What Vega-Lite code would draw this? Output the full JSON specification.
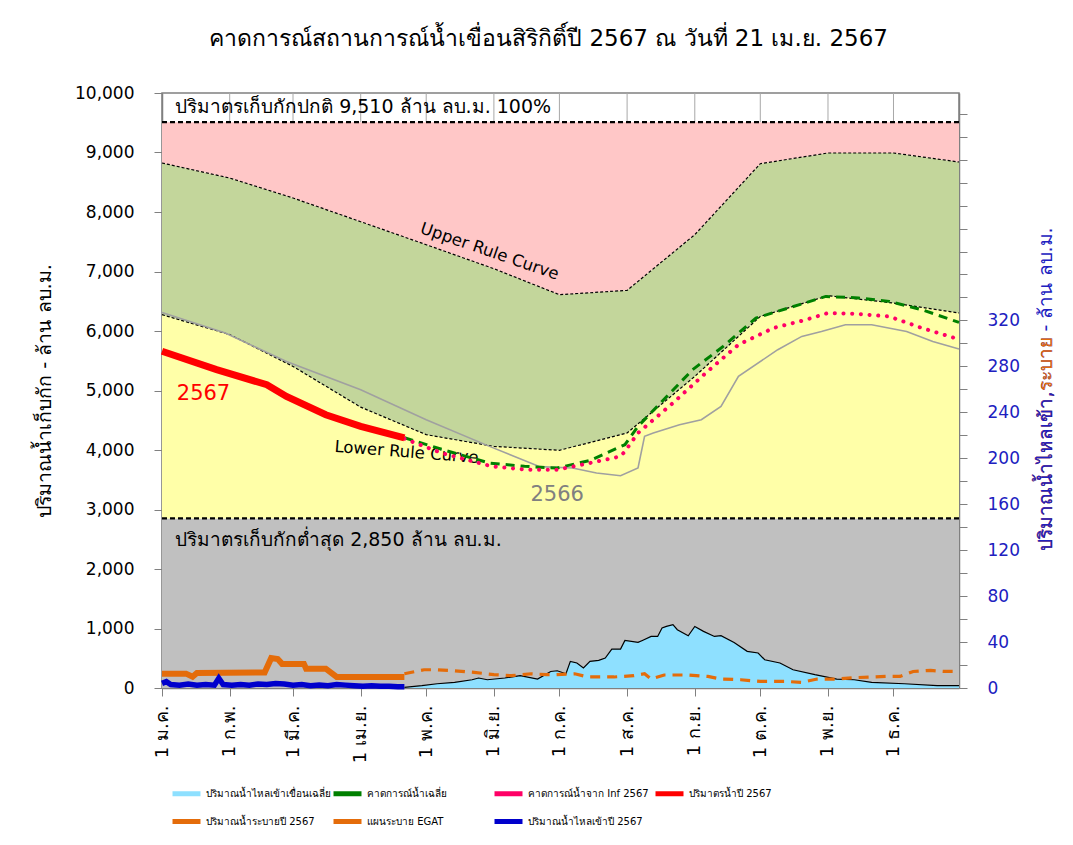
{
 "$schema": "https://vega.github.io/schema/vega-lite/v6.json",
 "autosize": {"type": "none"},
 "width": 797,
 "height": 595,
 "padding": {"left": 162, "top": 93, "right": 114, "bottom": 157},
 "background": "white",
 "title": {"text": "คาดการณ์สถานการณ์น้ำเขื่อนสิริกิติ์ปี 2567 ณ วันที่ 21 เม.ย. 2567", "fontSize": 23, "fontWeight": "normal", "color": "black", "anchor": "middle", "frame": "group", "dx": -12, "offset": 15, "baseline": "alphabetic"},
 "config": {
  "font": "DejaVu Sans",
  "view": {"stroke": "#808080", "strokeWidth": 1.5},
  "axis": {"labelFont": "DejaVu Sans", "titleFont": "DejaVu Sans"},
  "legend": {"labelFont": "DejaVu Sans"},
  "text": {"font": "DejaVu Sans"}
 },
 "datasets": {
  "months": [
   {"date": "2024-02-01", "normal": 9510, "max": 10000}, {"date": "2024-03-01", "normal": 9510, "max": 10000},
   {"date": "2024-04-01", "normal": 9510, "max": 10000}, {"date": "2024-05-01", "normal": 9510, "max": 10000},
   {"date": "2024-06-01", "normal": 9510, "max": 10000}, {"date": "2024-07-01", "normal": 9510, "max": 10000},
   {"date": "2024-08-01", "normal": 9510, "max": 10000}, {"date": "2024-09-01", "normal": 9510, "max": 10000},
   {"date": "2024-10-01", "normal": 9510, "max": 10000}, {"date": "2024-11-01", "normal": 9510, "max": 10000},
   {"date": "2024-12-01", "normal": 9510, "max": 10000}
  ],
  "rule": [
   {"date": "2024-01-01", "upper": 8824, "lower": 6274, "normal": 9510, "min": 2850},
   {"date": "2024-02-01", "upper": 8571, "lower": 5940, "normal": 9510, "min": 2850},
   {"date": "2024-03-01", "upper": 8235, "lower": 5405, "normal": 9510, "min": 2850},
   {"date": "2024-04-01", "upper": 7837, "lower": 4720, "normal": 9510, "min": 2850},
   {"date": "2024-05-01", "upper": 7450, "lower": 4258, "normal": 9510, "min": 2850},
   {"date": "2024-06-01", "upper": 7047, "lower": 4061, "normal": 9510, "min": 2850},
   {"date": "2024-07-01", "upper": 6610, "lower": 3995, "normal": 9510, "min": 2850},
   {"date": "2024-08-01", "upper": 6683, "lower": 4286, "normal": 9510, "min": 2850},
   {"date": "2024-09-01", "upper": 7619, "lower": 5237, "normal": 9510, "min": 2850},
   {"date": "2024-10-01", "upper": 8812, "lower": 6245, "normal": 9510, "min": 2850},
   {"date": "2024-11-01", "upper": 8992, "lower": 6593, "normal": 9510, "min": 2850},
   {"date": "2024-12-01", "upper": 8992, "lower": 6470, "normal": 9510, "min": 2850},
   {"date": "2024-12-31", "upper": 8840, "lower": 6303, "normal": 9510, "min": 2850}
  ],
  "s2566": [
   {"date": "2024-01-01", "v": 6312}, {"date": "2024-01-30", "v": 5966}, {"date": "2024-02-27", "v": 5489},
   {"date": "2024-04-01", "v": 5013}, {"date": "2024-05-01", "v": 4509}, {"date": "2024-05-30", "v": 4061},
   {"date": "2024-06-22", "v": 3720}, {"date": "2024-07-07", "v": 3697}, {"date": "2024-07-18", "v": 3613},
   {"date": "2024-07-29", "v": 3568}, {"date": "2024-08-06", "v": 3697}, {"date": "2024-08-09", "v": 4229},
   {"date": "2024-08-13", "v": 4286}, {"date": "2024-08-25", "v": 4425}, {"date": "2024-09-04", "v": 4509},
   {"date": "2024-09-13", "v": 4733}, {"date": "2024-09-21", "v": 5237}, {"date": "2024-10-09", "v": 5686},
   {"date": "2024-10-20", "v": 5909}, {"date": "2024-10-29", "v": 5993}, {"date": "2024-11-09", "v": 6106},
   {"date": "2024-11-21", "v": 6106}, {"date": "2024-12-07", "v": 5993}, {"date": "2024-12-19", "v": 5825},
   {"date": "2024-12-31", "v": 5697}
  ],
  "s2567": [
   {"date": "2024-01-01", "v": 5660}, {"date": "2024-01-26", "v": 5350}, {"date": "2024-02-18", "v": 5097},
   {"date": "2024-02-27", "v": 4901}, {"date": "2024-03-16", "v": 4593}, {"date": "2024-04-01", "v": 4397},
   {"date": "2024-04-21", "v": 4202}
  ],
  "fcavg": [
   {"date": "2024-04-21", "v": 4206}, {"date": "2024-05-10", "v": 3990}, {"date": "2024-05-30", "v": 3781},
   {"date": "2024-06-15", "v": 3725}, {"date": "2024-06-30", "v": 3697}, {"date": "2024-07-15", "v": 3825},
   {"date": "2024-07-31", "v": 4089}, {"date": "2024-08-06", "v": 4397}, {"date": "2024-08-31", "v": 5350},
   {"date": "2024-09-14", "v": 5741}, {"date": "2024-09-29", "v": 6218}, {"date": "2024-10-14", "v": 6387},
   {"date": "2024-10-31", "v": 6581}, {"date": "2024-11-15", "v": 6555}, {"date": "2024-11-29", "v": 6498},
   {"date": "2024-12-14", "v": 6358}, {"date": "2024-12-31", "v": 6145}
  ],
  "fcinf": [
   {"date": "2024-04-21", "v": 4190}, {"date": "2024-05-08", "v": 3950}, {"date": "2024-05-31", "v": 3725},
   {"date": "2024-06-16", "v": 3669}, {"date": "2024-06-30", "v": 3669}, {"date": "2024-07-15", "v": 3781},
   {"date": "2024-07-29", "v": 3893}, {"date": "2024-07-31", "v": 3977}, {"date": "2024-08-06", "v": 4286},
   {"date": "2024-08-22", "v": 4790}, {"date": "2024-09-06", "v": 5294}, {"date": "2024-09-21", "v": 5770},
   {"date": "2024-10-07", "v": 6050}, {"date": "2024-10-22", "v": 6190}, {"date": "2024-11-01", "v": 6303},
   {"date": "2024-11-13", "v": 6291}, {"date": "2024-11-29", "v": 6245}, {"date": "2024-12-14", "v": 6050},
   {"date": "2024-12-31", "v": 5860}
  ],
  "avginflow": [
   {"date": "2024-04-21", "v": 0.5}, {"date": "2024-04-29", "v": 2}, {"date": "2024-05-06", "v": 3.7},
   {"date": "2024-05-14", "v": 4.9}, {"date": "2024-05-22", "v": 7.2}, {"date": "2024-05-25", "v": 8.7},
   {"date": "2024-05-29", "v": 7.2}, {"date": "2024-06-06", "v": 8.7}, {"date": "2024-06-13", "v": 10.7},
   {"date": "2024-06-21", "v": 7.8}, {"date": "2024-06-27", "v": 14.4}, {"date": "2024-06-30", "v": 15},
   {"date": "2024-07-04", "v": 12.4}, {"date": "2024-07-06", "v": 23.2}, {"date": "2024-07-09", "v": 21.8},
   {"date": "2024-07-12", "v": 17.4}, {"date": "2024-07-15", "v": 23.2}, {"date": "2024-07-19", "v": 24},
   {"date": "2024-07-22", "v": 26.1}, {"date": "2024-07-25", "v": 33.9}, {"date": "2024-07-29", "v": 33.9},
   {"date": "2024-07-31", "v": 41.4}, {"date": "2024-08-06", "v": 39.7}, {"date": "2024-08-08", "v": 41.4},
   {"date": "2024-08-12", "v": 44.9}, {"date": "2024-08-15", "v": 44.9}, {"date": "2024-08-17", "v": 52.2},
   {"date": "2024-08-19", "v": 53.6}, {"date": "2024-08-22", "v": 55.1}, {"date": "2024-08-24", "v": 50.7},
   {"date": "2024-08-29", "v": 45.5}, {"date": "2024-09-01", "v": 53.6}, {"date": "2024-09-05", "v": 49.3},
   {"date": "2024-09-10", "v": 44.9}, {"date": "2024-09-13", "v": 45.5}, {"date": "2024-09-19", "v": 39.7},
   {"date": "2024-09-25", "v": 31.9}, {"date": "2024-09-30", "v": 30.5}, {"date": "2024-10-03", "v": 24.6},
   {"date": "2024-10-10", "v": 21.8}, {"date": "2024-10-16", "v": 15.9}, {"date": "2024-10-26", "v": 11.6},
   {"date": "2024-11-05", "v": 7.8}, {"date": "2024-11-13", "v": 7.2}, {"date": "2024-11-21", "v": 4.9},
   {"date": "2024-12-06", "v": 3.7}, {"date": "2024-12-21", "v": 2}, {"date": "2024-12-31", "v": 2}
  ],
  "release": [
   {"date": "2024-01-01", "v": 12.5}, {"date": "2024-01-12", "v": 12.5}, {"date": "2024-01-15", "v": 9.8},
   {"date": "2024-01-17", "v": 13}, {"date": "2024-02-17", "v": 13.5}, {"date": "2024-02-20", "v": 26},
   {"date": "2024-02-23", "v": 25.2}, {"date": "2024-02-25", "v": 21}, {"date": "2024-03-06", "v": 21},
   {"date": "2024-03-07", "v": 16.8}, {"date": "2024-03-16", "v": 16.8}, {"date": "2024-03-21", "v": 9.6},
   {"date": "2024-04-21", "v": 9.6}
  ],
  "egat": [
   {"date": "2024-04-21", "v": 12.4}, {"date": "2024-04-30", "v": 15.9}, {"date": "2024-05-06", "v": 15.9},
   {"date": "2024-05-14", "v": 15}, {"date": "2024-05-23", "v": 13.6}, {"date": "2024-06-01", "v": 11.6},
   {"date": "2024-06-09", "v": 10.7}, {"date": "2024-06-18", "v": 12.4}, {"date": "2024-06-25", "v": 11.6},
   {"date": "2024-06-29", "v": 11.6}, {"date": "2024-07-08", "v": 12.4}, {"date": "2024-07-14", "v": 9.6},
   {"date": "2024-07-26", "v": 9.6}, {"date": "2024-08-04", "v": 10.7}, {"date": "2024-08-09", "v": 12.4},
   {"date": "2024-08-12", "v": 7.8}, {"date": "2024-08-18", "v": 11.3}, {"date": "2024-08-29", "v": 11.3},
   {"date": "2024-09-07", "v": 10.1}, {"date": "2024-09-13", "v": 7.8}, {"date": "2024-09-22", "v": 7.2},
   {"date": "2024-10-01", "v": 5.7}, {"date": "2024-10-13", "v": 5.7}, {"date": "2024-10-20", "v": 4.9},
   {"date": "2024-10-27", "v": 7.8}, {"date": "2024-11-05", "v": 7.8}, {"date": "2024-11-13", "v": 9},
   {"date": "2024-11-28", "v": 10.1}, {"date": "2024-12-04", "v": 10.1}, {"date": "2024-12-10", "v": 14.4},
   {"date": "2024-12-18", "v": 15.3}, {"date": "2024-12-24", "v": 14.4}, {"date": "2024-12-31", "v": 14.4}
  ],
  "inflow": [
   {"date": "2024-01-01", "v": 4}, {"date": "2024-01-03", "v": 5.5}, {"date": "2024-01-05", "v": 3},
   {"date": "2024-01-09", "v": 2.5}, {"date": "2024-01-13", "v": 3.5}, {"date": "2024-01-17", "v": 2.5},
   {"date": "2024-01-21", "v": 3}, {"date": "2024-01-25", "v": 2.5}, {"date": "2024-01-27", "v": 8.5},
   {"date": "2024-01-29", "v": 3}, {"date": "2024-02-02", "v": 2.5}, {"date": "2024-02-06", "v": 3},
   {"date": "2024-02-10", "v": 2.5}, {"date": "2024-02-14", "v": 3.5}, {"date": "2024-02-18", "v": 3},
   {"date": "2024-02-22", "v": 4}, {"date": "2024-02-26", "v": 3.5}, {"date": "2024-03-01", "v": 2.5},
   {"date": "2024-03-05", "v": 3}, {"date": "2024-03-09", "v": 2}, {"date": "2024-03-13", "v": 2.5},
   {"date": "2024-03-17", "v": 2}, {"date": "2024-03-21", "v": 3}, {"date": "2024-03-25", "v": 2.5},
   {"date": "2024-03-29", "v": 2}, {"date": "2024-04-02", "v": 1.5}, {"date": "2024-04-06", "v": 2},
   {"date": "2024-04-10", "v": 1.5}, {"date": "2024-04-14", "v": 1.5}, {"date": "2024-04-18", "v": 1},
   {"date": "2024-04-21", "v": 1}
  ]
 },
 "data": {"name": "rule"},
 "encoding": {
  "x": {
   "field": "date", "type": "temporal", "title": null,
   "scale": {"type": "utc", "domain": [{"year": 2024, "month": 1, "date": 1, "utc": true}, {"year": 2024, "month": 12, "date": 31, "utc": true}]},
   "axis": {
    "values": [
     {"year": 2024, "month": 1, "date": 1, "utc": true}, {"year": 2024, "month": 2, "date": 1, "utc": true},
     {"year": 2024, "month": 3, "date": 1, "utc": true}, {"year": 2024, "month": 4, "date": 1, "utc": true},
     {"year": 2024, "month": 5, "date": 1, "utc": true}, {"year": 2024, "month": 6, "date": 1, "utc": true},
     {"year": 2024, "month": 7, "date": 1, "utc": true}, {"year": 2024, "month": 8, "date": 1, "utc": true},
     {"year": 2024, "month": 9, "date": 1, "utc": true}, {"year": 2024, "month": 10, "date": 1, "utc": true},
     {"year": 2024, "month": 11, "date": 1, "utc": true}, {"year": 2024, "month": 12, "date": 1, "utc": true}
    ],
    "labelExpr": "'1 ' + ['ม.ค.','ก.พ.','มี.ค.','เม.ย.','พ.ค.','มิ.ย.','ก.ค.','ส.ค.','ก.ย.','ต.ค.','พ.ย.','ธ.ค.'][utcmonth(datum.value)]",
    "labelAngle": -90, "labelFontSize": 18, "labelColor": "black", "labelPadding": 9,
    "labelOverlap": false, "labelFlush": false,
    "tickSize": 8, "tickColor": "#808080", "domainColor": "#808080", "domainWidth": 1.5,
    "grid": false, "title": null
   }
  }
 },
 "resolve": {"scale": {"y": "independent"}},
 "layer": [
  {
   "mark": {"type": "area", "color": "#C0C0C0"},
   "encoding": {
    "y": {"field": "min", "type": "quantitative", "scale": {"domain": [0, 10000]},
     "axis": {"orient": "left", "values": [0, 1000, 2000, 3000, 4000, 5000, 6000, 7000, 8000, 9000, 10000], "format": ",d",
      "labelFontSize": 17, "labelColor": "black", "labelPadding": 20, "tickSize": 8, "tickColor": "#808080",
      "domainColor": "#808080", "domainWidth": 1.5, "grid": false,
      "title": "ปริมาณน้ำเก็บกัก - ล้าน ลบ.ม.", "titleFontSize": 19.5, "titleFontWeight": "normal", "titleColor": "black", "titlePadding": 20}}
   }
  },
  {
   "mark": {"type": "area", "color": "#FFFFA8"},
   "encoding": {
    "y": {"field": "lower", "type": "quantitative", "scale": {"domain": [0, 10000]}, "axis": null},
    "y2": {"field": "min"}
   }
  },
  {
   "mark": {"type": "area", "color": "#C3D69B"},
   "encoding": {
    "y": {"field": "upper", "type": "quantitative", "scale": {"domain": [0, 10000]}, "axis": null},
    "y2": {"field": "lower"}
   }
  },
  {
   "mark": {"type": "area", "color": "#FFC7C7"},
   "encoding": {
    "y": {"field": "normal", "type": "quantitative", "scale": {"domain": [0, 10000]}, "axis": null},
    "y2": {"field": "upper"}
   }
  },
  {
   "data": {"name": "months"},
   "mark": {"type": "rule", "color": "#A8A8A8", "strokeWidth": 1},
   "encoding": {
    "y": {"field": "max", "type": "quantitative", "scale": {"domain": [0, 10000]}, "axis": null},
    "y2": {"field": "normal"}
   }
  },
  {
   "data": {"name": "avginflow"},
   "mark": {"type": "area", "opacity": 1},
   "encoding": {
    "y": {"field": "v", "type": "quantitative", "scale": {"domain": [0, 518]},
     "axis": {"orient": "right", "values": [0, 20, 40, 60, 80, 100, 120, 140, 160, 180, 200, 220, 240, 260, 280, 300, 320, 340, 360, 380, 400, 420, 440, 460, 480, 500],
      "labelExpr": "(datum.value % 40 === 0 && datum.value <= 320) ? datum.label : ''",
      "labelFontSize": 17, "labelColor": "#2020C0", "labelPadding": 20, "tickSize": 8, "tickColor": "#808080",
      "domainColor": "#808080", "domainWidth": 1.5, "grid": false, "labelOverlap": false,
      "title": "ปริมาณน้ำไหลเข้า,ระบาย - ล้าน ลบ.ม.", "titleColor": "#2020C0", "titleFontSize": 19, "titleFontWeight": "normal",
      "titleAngle": 270, "titleAlign": "left", "titleBaseline": "middle", "titleX": 86, "titleY": 457}},
    "color": {"datum": "ปริมาณน้ำไหลเข้าเขื่อนเฉลี่ย", "type": "nominal",
     "scale": {"domain": ["ปริมาณน้ำไหลเข้าเขื่อนเฉลี่ย", "คาดการณ์น้ำเฉลี่ย", "คาดการณ์น้ำจาก Inf 2567", "ปริมาตรน้ำปี 2567", "ปริมาณน้ำระบายปี 2567", "แผนระบาย EGAT", "ปริมาณน้ำไหลเข้าปี 2567"],
      "range": ["#8EE0FF", "#008000", "#FF0066", "#FF0000", "#E46C0A", "#E46C0A", "#0000CC"]},
     "legend": {
      "orient": "none", "legendX": 8, "legendY": 684, "columns": 4, "direction": "horizontal", "title": null,
      "gridAlign": "all", "columnPadding": -42, "rowPadding": 1,
      "symbolType": "stroke", "symbolStrokeWidth": 5,
      "symbolSize": 784, "labelFontSize": 10, "labelColor": "black", "labelOffset": 3, "labelLimit": 0
     }}
   }
  },
  {
   "data": {"name": "avginflow"},
   "mark": {"type": "line", "color": "black", "strokeWidth": 1.2},
   "encoding": {"y": {"field": "v", "type": "quantitative", "scale": {"domain": [0, 518]}, "axis": null}}
  },
  {
   "mark": {"type": "line", "color": "black", "strokeWidth": 1.2, "strokeDash": [3, 2]},
   "encoding": {"y": {"field": "upper", "type": "quantitative", "scale": {"domain": [0, 10000]}, "axis": null}}
  },
  {
   "mark": {"type": "line", "color": "black", "strokeWidth": 1.2, "strokeDash": [3, 2]},
   "encoding": {"y": {"field": "lower", "type": "quantitative", "scale": {"domain": [0, 10000]}, "axis": null}}
  },
  {
   "mark": {"type": "line", "color": "black", "strokeWidth": 2.2, "strokeDash": [5, 3]},
   "encoding": {"y": {"field": "normal", "type": "quantitative", "scale": {"domain": [0, 10000]}, "axis": null}}
  },
  {
   "mark": {"type": "line", "color": "black", "strokeWidth": 2.2, "strokeDash": [5, 3]},
   "encoding": {"y": {"field": "min", "type": "quantitative", "scale": {"domain": [0, 10000]}, "axis": null}}
  },
  {
   "data": {"name": "s2566"},
   "mark": {"type": "line", "color": "#A0A0A0", "strokeWidth": 1.6},
   "encoding": {"y": {"field": "v", "type": "quantitative", "scale": {"domain": [0, 10000]}, "axis": null}}
  },
  {
   "data": {"values": [{"date": "2024-01-07", "value": 9760, "label": "ปริมาตรเก็บกักปกติ 9,510 ล้าน ลบ.ม. 100%"}]},
   "mark": {"type": "text", "align": "left", "baseline": "middle", "fontSize": 19, "color": "black"},
   "encoding": {"y": {"field": "value", "type": "quantitative", "scale": {"domain": [0, 10000]}, "axis": null}, "text": {"field": "label"}}
  },
  {
   "data": {"values": [{"date": "2024-01-07", "value": 2490, "label": "ปริมาตรเก็บกักต่ำสุด 2,850 ล้าน ลบ.ม."}]},
   "mark": {"type": "text", "align": "left", "baseline": "middle", "fontSize": 19, "color": "black"},
   "encoding": {"y": {"field": "value", "type": "quantitative", "scale": {"domain": [0, 10000]}, "axis": null}, "text": {"field": "label"}}
  },
  {
   "data": {"values": [{"date": "2024-05-30", "value": 7336, "label": "Upper Rule Curve"}]},
   "mark": {"type": "text", "align": "center", "baseline": "middle", "fontSize": 16.5, "angle": 19, "color": "black"},
   "encoding": {"y": {"field": "value", "type": "quantitative", "scale": {"domain": [0, 10000]}, "axis": null}, "text": {"field": "label"}}
  },
  {
   "data": {"values": [{"date": "2024-04-22", "value": 3960, "label": "Lower Rule Curve"}]},
   "mark": {"type": "text", "align": "center", "baseline": "middle", "fontSize": 16.5, "angle": 4.5, "color": "black"},
   "encoding": {"y": {"field": "value", "type": "quantitative", "scale": {"domain": [0, 10000]}, "axis": null}, "text": {"field": "label"}}
  },
  {
   "data": {"values": [{"date": "2024-01-20", "value": 4940, "label": "2567"}]},
   "mark": {"type": "text", "align": "center", "baseline": "middle", "fontSize": 21, "color": "#FF0000"},
   "encoding": {"y": {"field": "value", "type": "quantitative", "scale": {"domain": [0, 10000]}, "axis": null}, "text": {"field": "label"}}
  },
  {
   "data": {"values": [{"date": "2024-06-30", "value": 3249, "label": "2566"}]},
   "mark": {"type": "text", "align": "center", "baseline": "middle", "fontSize": 21, "color": "#808080"},
   "encoding": {"y": {"field": "value", "type": "quantitative", "scale": {"domain": [0, 10000]}, "axis": null}, "text": {"field": "label"}}
  },
  {
   "data": {"name": "fcavg"},
   "mark": {"type": "line", "strokeWidth": 3, "strokeDash": [9, 6]},
   "encoding": {
    "y": {"field": "v", "type": "quantitative", "scale": {"domain": [0, 10000]}, "axis": null},
    "color": {"datum": "คาดการณ์น้ำเฉลี่ย", "type": "nominal"}
   }
  },
  {
   "data": {"name": "fcinf"},
   "mark": {"type": "line", "strokeWidth": 4, "strokeDash": [0.1, 8.6], "strokeCap": "round"},
   "encoding": {
    "y": {"field": "v", "type": "quantitative", "scale": {"domain": [0, 10000]}, "axis": null},
    "color": {"datum": "คาดการณ์น้ำจาก Inf 2567", "type": "nominal"}
   }
  },
  {
   "data": {"name": "s2567"},
   "mark": {"type": "line", "strokeWidth": 7},
   "encoding": {
    "y": {"field": "v", "type": "quantitative", "scale": {"domain": [0, 10000]}, "axis": null},
    "color": {"datum": "ปริมาตรน้ำปี 2567", "type": "nominal"}
   }
  },
  {
   "data": {"name": "release"},
   "mark": {"type": "line", "strokeWidth": 6},
   "encoding": {
    "y": {"field": "v", "type": "quantitative", "scale": {"domain": [0, 518]}, "axis": null},
    "color": {"datum": "ปริมาณน้ำระบายปี 2567", "type": "nominal"}
   }
  },
  {
   "data": {"name": "egat"},
   "mark": {"type": "line", "strokeWidth": 3.2, "strokeDash": [10, 7]},
   "encoding": {
    "y": {"field": "v", "type": "quantitative", "scale": {"domain": [0, 518]},
     "axis": {"orient": "right", "labels": false, "ticks": false, "domain": false, "grid": false,
      "title": "ปริมาณน้ำไหลเข้า,ระบาย", "titleColor": "#E46C0A", "titleFontSize": 19, "titleFontWeight": "normal",
      "titleAngle": 270, "titleAlign": "left", "titleBaseline": "middle", "titleX": 86, "titleY": 457}},
    "color": {"datum": "แผนระบาย EGAT", "type": "nominal"}
   }
  },
  {
   "data": {"name": "inflow"},
   "mark": {"type": "line", "strokeWidth": 5.5},
   "encoding": {
    "y": {"field": "v", "type": "quantitative", "scale": {"domain": [0, 518]},
     "axis": {"orient": "right", "labels": false, "ticks": false, "domain": false, "grid": false,
      "title": "ปริมาณน้ำไหลเข้า,", "titleColor": "#2020C0", "titleFontSize": 19, "titleFontWeight": "normal",
      "titleAngle": 270, "titleAlign": "left", "titleBaseline": "middle", "titleX": 86, "titleY": 457}},
    "color": {"datum": "ปริมาณน้ำไหลเข้าปี 2567", "type": "nominal"}
   }
  }
 ]
}
